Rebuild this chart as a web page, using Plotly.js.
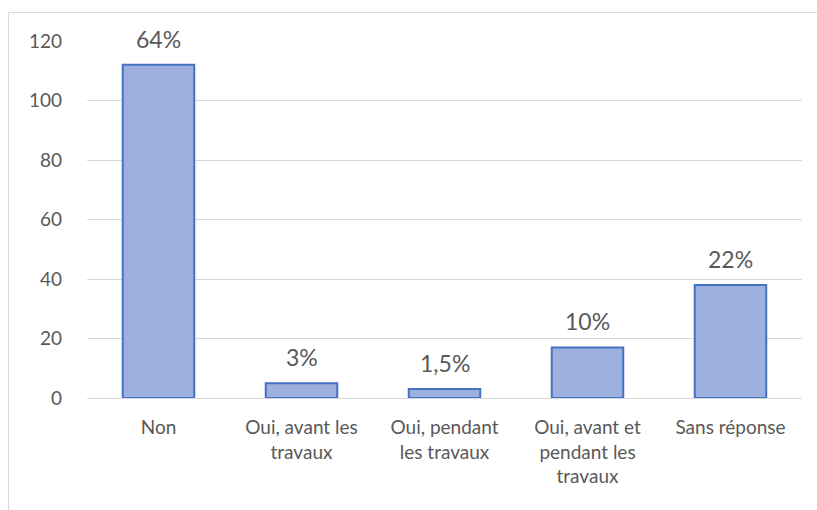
<!DOCTYPE html>
<html>
<head>
<meta charset="utf-8">
<script src="https://cdn.plot.ly/plotly-3.0.1.min.js"></script>
<style>
html,body{margin:0;padding:0;background:#fff;overflow:hidden;}
#frame{position:absolute;left:8px;top:12px;width:1000px;height:700px;border:1px solid #d9d9d9;box-sizing:border-box;}
#chart{position:absolute;left:0;top:0;width:817px;height:510px;}
</style>
</head>
<body>
<div id="frame"></div>
<div id="chart"></div>
<script>
const categories = ["Non", "Oui, avant les<br>travaux", "Oui, pendant<br>les travaux", "Oui, avant et<br>pendant les<br>travaux", "Sans réponse"];
const counts = [112, 5, 3, 17, 38];
const percentLabels = ["64%", "3%", "1,5%", "10%", "22%"];
const yTicks = [0, 20, 40, 60, 80, 100, 120];

const textColor = "#595959";
const fontFamily = "Lato, 'Open Sans', sans-serif";

const trace = {
  type: "bar",
  x: categories,
  y: counts,
  width: 0.5,
  marker: {color: "#9eb0de", line: {color: "#4472c4", width: 2}},
  hoverinfo: "none"
};

const annotations = categories.map((c, i) => ({
  x: c, y: counts[i], xref: "x", yref: "y",
  text: percentLabels[i], showarrow: false,
  yanchor: "bottom", yshift: 10,
  font: {family: fontFamily, size: 23, color: textColor}
}));

const layout = {
  width: 817, height: 510,
  margin: {l: 87, r: 15, t: 41, b: 112},
  paper_bgcolor: "rgba(0,0,0,0)",
  plot_bgcolor: "rgba(0,0,0,0)",
  showlegend: false,
  bargap: 0.5,
  font: {family: fontFamily, color: textColor},
  xaxis: {
    type: "category",
    tickfont: {family: fontFamily, size: 19, color: textColor},
    showline: false, ticks: "", showgrid: false,
    ticklabelstandoff: 16
  },
  yaxis: {
    range: [0, 120],
    tickvals: yTicks,
    ticktext: yTicks.map(String),
    tickfont: {family: fontFamily, size: 19, color: textColor},
    gridcolor: "#d9d9d9", gridwidth: 1,
    zeroline: true, zerolinecolor: "#d9d9d9", zerolinewidth: 1,
    showline: false, ticks: "",
    ticklabelstandoff: 24
  },
  annotations: annotations
};

Plotly.newPlot("chart", [trace], layout, {displayModeBar: false, staticPlot: true});
</script>
</body>
</html>
